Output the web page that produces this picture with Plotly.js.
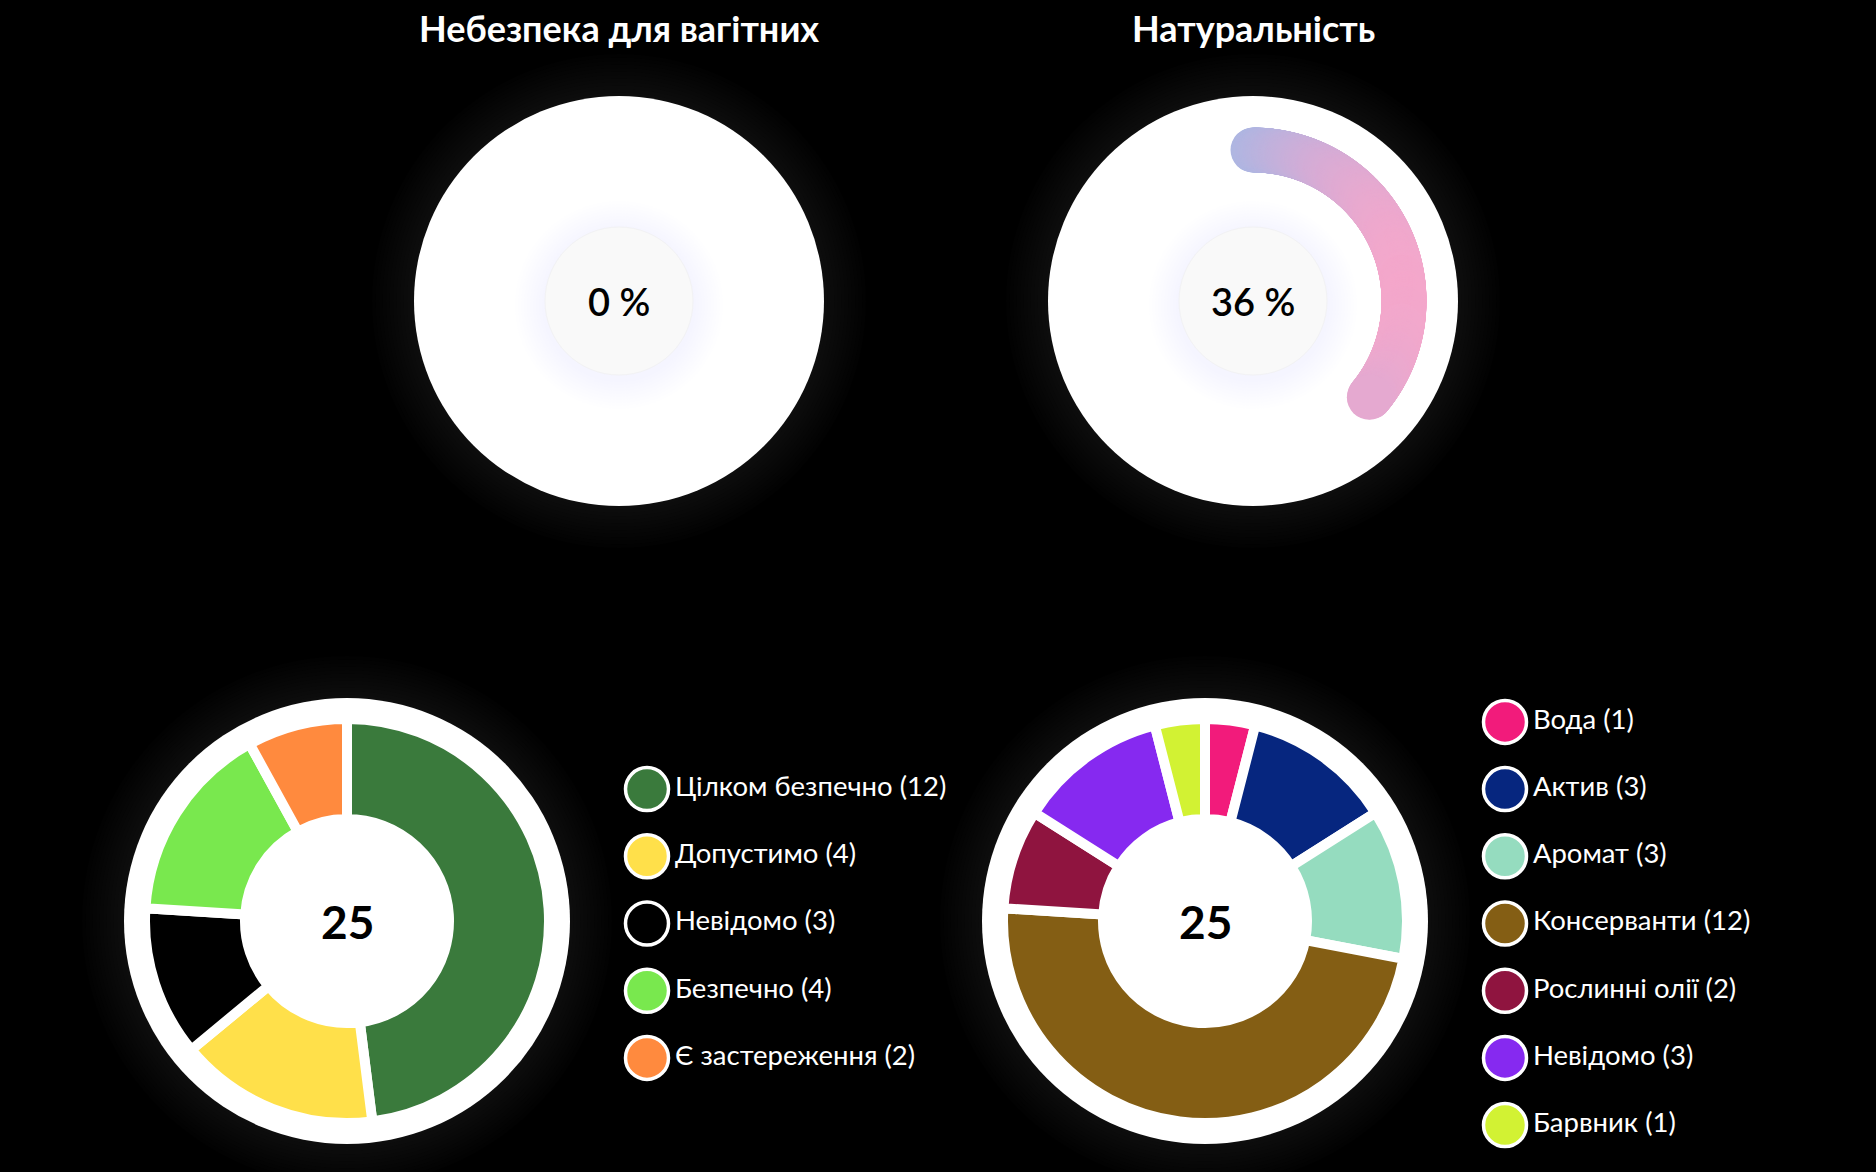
<!DOCTYPE html>
<html><head><meta charset="utf-8">
<script src="https://cdn.plot.ly/plotly-3.0.1.min.js"></script>
<style>html,body{margin:0;padding:0;background:#000;}#chart{width:1876px;height:1172px;}</style>
</head><body><div id="chart"></div>
<script>
// ---- data ----
const gaugeTitles = ['Небезпека для вагітних', 'Натуральність'];
const gaugeValues = [0, 36];

const safetyLabels = ['Цілком безпечно', 'Допустимо', 'Невідомо', 'Безпечно', 'Є застереження'];
const safetyValues = [12, 4, 3, 4, 2];
const safetyColors = ['#3a7a3c', '#ffe04a', '#000000', '#79e84e', '#ff8a3e'];

const typeLabels = ['Вода', 'Актив', 'Аромат', 'Консерванти', 'Рослинні олії', 'Невідомо', 'Барвник'];
const typeValues = [1, 3, 3, 12, 2, 3, 1];
const typeColors = ['#f21b7b', '#06267f', '#95dcbf', '#845e14', '#8f143f', '#8629f0', '#d2f233'];

// ---- layout constants ----
const W = 1876, H = 1172;
const FONT = 'Lato, "Open Sans", sans-serif';
const px = x => x / W, py = y => (H - y) / H;
const gaugeCenters = [[619, 301], [1253, 301]];
const GAUGE_R = 205, ARC_R = 151, ARC_W = 45, INNER_R = 74;
const donutCenters = [[347, 921], [1205, 921]];
const DISK_R = 223, PIE_R = 202, PIE_HOLE = 0.505;
const legendX = [647, 1505];
const LEGEND_CY = 923.5;
const ROW_H = 67.2;

const traces = [];
const shapes = [];
const annotations = [];

function circle(cx, cy, r, fill, layer, line) {
  return {type: 'circle', xref: 'paper', yref: 'paper', xsizemode: 'pixel', ysizemode: 'pixel',
    xanchor: px(cx), yanchor: py(cy), x0: -r, x1: r, y0: -r, y1: r,
    fillcolor: fill, line: line || {width: 0}, layer: layer};
}
function glow(cx, cy, r) {
  for (let k = 12; k >= 1; k--) shapes.push(circle(cx, cy, r + k * 3.5, 'rgba(175,185,205,0.01)', 'below'));
}

const layout = {
  width: W, height: H, margin: {l: 0, r: 0, t: 0, b: 0},
  paper_bgcolor: '#000', plot_bgcolor: 'rgba(0,0,0,0)', showlegend: false,
  font: {family: FONT, color: '#fff'},
  xaxis: {range: [0, W], domain: [0, 1], visible: false, fixedrange: true},
  yaxis: {range: [(H - LEGEND_CY) / ROW_H, -LEGEND_CY / ROW_H], domain: [0, 1], visible: false, fixedrange: true}
};

// ---- gauges ----
gaugeValues.forEach((v, gi) => {
  const [cx, cy] = gaugeCenters[gi];
  const key = gi === 0 ? 'polar' : 'polar' + (gi + 1);
  layout[key] = {
    domain: {x: [px(cx - GAUGE_R), px(cx + GAUGE_R)], y: [py(cy + GAUGE_R), py(cy - GAUGE_R)]},
    bgcolor: 'rgba(0,0,0,0)',
    radialaxis: {visible: false, range: [0, GAUGE_R]},
    angularaxis: {visible: false, rotation: 90, direction: 'clockwise'}
  };
  glow(cx, cy, GAUGE_R);
  shapes.push(circle(cx, cy, GAUGE_R, '#ffffff', 'below'));
  // arc for the percentage value
  const sweep = v * 3.6;
  const n = Math.max(1, Math.round(sweep / 0.25));
  const theta = [], xpos = [];
  if (v > 0) {
    for (let k = 0; k <= n; k++) {
      const t = sweep * k / n;
      theta.push(t);
      xpos.push(ARC_R * Math.sin(t * Math.PI / 180));
    }
  }
  traces.push({
    type: 'scatterpolar', subplot: key, r: theta.map(() => ARC_R), theta: theta, mode: 'markers',
    marker: {size: ARC_W, color: xpos, colorscale: [[0, '#a3b9e5'], [0.5, '#d4acd6'], [1, '#fda6c8']],
      cmin: -ARC_W / 2, cmax: ARC_R + ARC_W / 2, line: {width: 0}, opacity: 1},
    hoverinfo: 'skip', showlegend: false
  });
  // inner disc with soft shadow
  for (let k = 10; k >= 1; k--) shapes.push(circle(cx, cy + 4, INNER_R + k * 3, 'rgba(214,218,234,0.025)', 'above'));
  shapes.push(circle(cx, cy, INNER_R, '#f9f9f9', 'above', {width: 1, color: '#f2f2f4'}));
  annotations.push({xref: 'paper', yref: 'paper', x: px(cx), y: py(cy), xanchor: 'center', yanchor: 'middle',
    text: v + ' %', showarrow: false, font: {family: FONT, size: 38, color: '#000', weight: 600}});
  annotations.push({xref: 'paper', yref: 'paper', x: px(cx), y: py(28), xanchor: 'center', yanchor: 'middle',
    text: gaugeTitles[gi], showarrow: false, font: {family: FONT, size: 36, color: '#fff', weight: 700}});
});

// ---- donuts ----
function donut(di, labels, values, colors) {
  const [cx, cy] = donutCenters[di];
  glow(cx, cy, DISK_R);
  shapes.push(circle(cx, cy, DISK_R, '#ffffff', 'below'));
  traces.push({
    type: 'pie', labels: labels, values: values, sort: false, direction: 'clockwise', rotation: 0,
    hole: PIE_HOLE, textinfo: 'none', hoverinfo: 'none', showlegend: false,
    marker: {colors: colors, line: {color: '#ffffff', width: 10}},
    domain: {x: [px(cx - PIE_R), px(cx + PIE_R)], y: [py(cy + PIE_R), py(cy - PIE_R)]}
  });
  const total = values.reduce((a, b) => a + b, 0);
  annotations.push({xref: 'paper', yref: 'paper', x: px(cx), y: py(cy), xanchor: 'center', yanchor: 'middle',
    text: String(total), showarrow: false, font: {family: FONT, size: 46, color: '#000', weight: 700}});
  // legend
  const n = labels.length;
  traces.push({
    type: 'scatter', xaxis: 'x', yaxis: 'y', mode: 'markers+text',
    x: labels.map(() => legendX[di]),
    y: labels.map((_, i) => i - (n - 1) / 2),
    text: labels.map((l, i) => l + ' (' + values[i] + ')'),
    textposition: 'middle right',
    textfont: {family: FONT, size: 27.5, color: '#ffffff'},
    marker: {size: 43, color: colors, line: {color: '#ffffff', width: 3.5}},
    hoverinfo: 'skip', showlegend: false, cliponaxis: false
  });
}
donut(0, safetyLabels, safetyValues, safetyColors);
donut(1, typeLabels, typeValues, typeColors);

layout.shapes = shapes;
layout.annotations = annotations;

Plotly.newPlot('chart', traces, layout, {displayModeBar: false, staticPlot: true});
</script>
</body></html>
